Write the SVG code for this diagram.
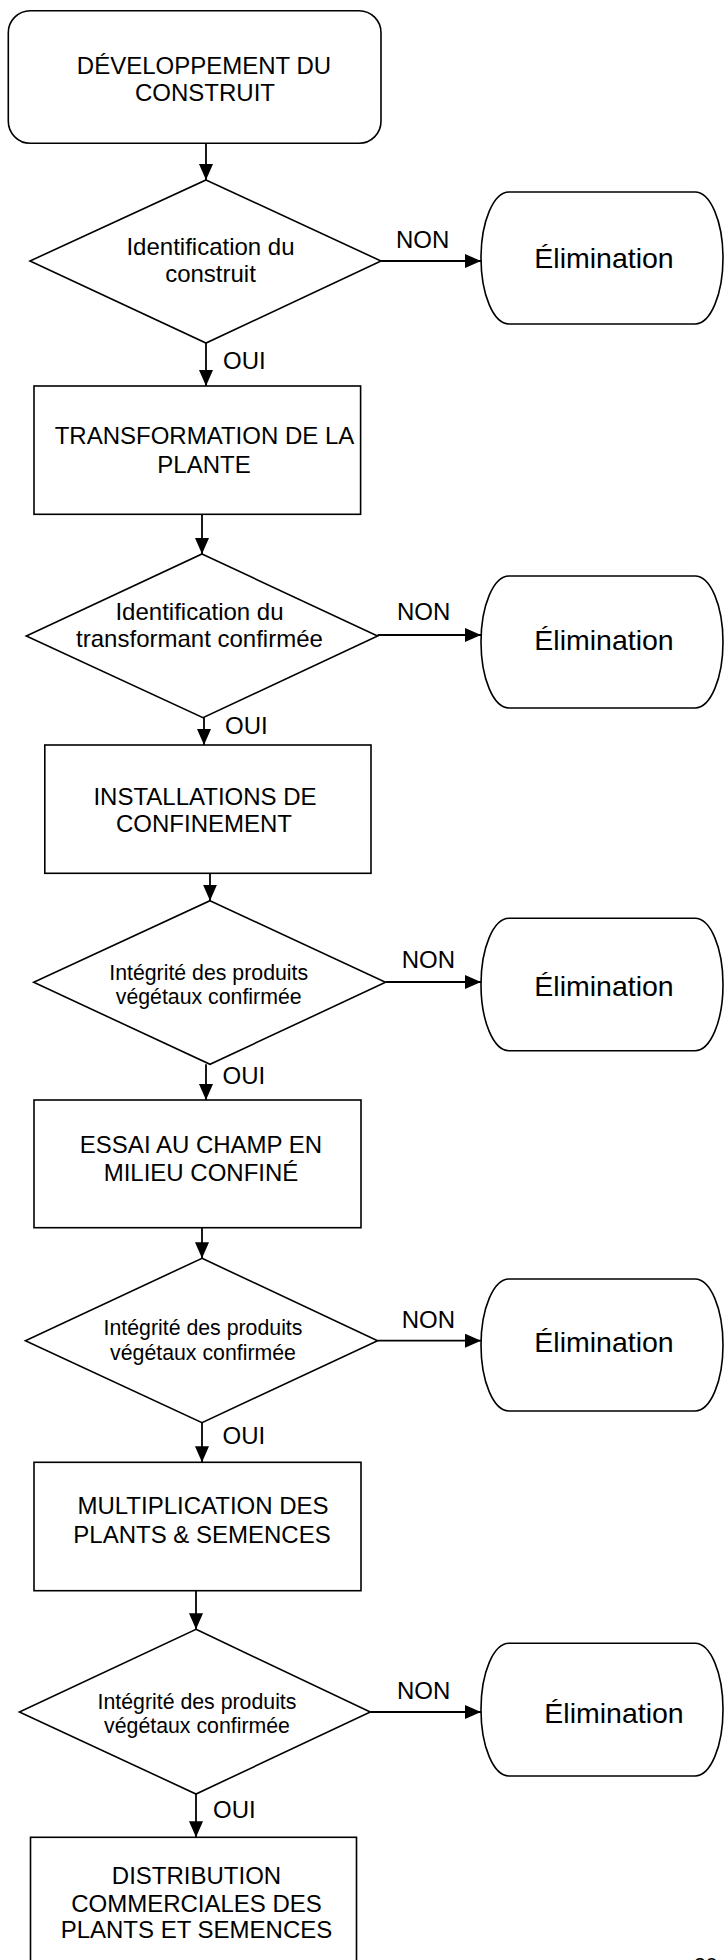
<svg xmlns="http://www.w3.org/2000/svg" width="724" height="1960" viewBox="0 0 724 1960">
<style>
.sh{fill:#fff;stroke:#000;stroke-width:1.6}
.ln{fill:none;stroke:#000;stroke-width:1.8}
text{font-family:"Liberation Sans",Arial,sans-serif;fill:#000}
.bt{font-size:24px;text-anchor:middle}
.dt{font-size:24px;text-anchor:middle}
.ds{font-size:21.3px;text-anchor:middle}
.el{font-size:28.5px;text-anchor:middle}
.lb{font-size:24px}
</style>
<defs>
<marker id="ah" markerUnits="userSpaceOnUse" markerWidth="16" markerHeight="14" refX="16" refY="7" orient="auto">
<path d="M0,0 L16,7 L0,14 z" fill="#000"/>
</marker>
</defs>
<rect width="724" height="1960" fill="#fff"/>
<g id="connectors">
<line class="ln" x1="206" y1="143.3" x2="206" y2="180" marker-end="url(#ah)"/>
<line class="ln" x1="206" y1="343" x2="206" y2="386" marker-end="url(#ah)"/>
<line class="ln" x1="202" y1="514.3" x2="202" y2="554" marker-end="url(#ah)"/>
<line class="ln" x1="204" y1="717.7" x2="204" y2="745" marker-end="url(#ah)"/>
<line class="ln" x1="210" y1="873.3" x2="210" y2="900.7" marker-end="url(#ah)"/>
<line class="ln" x1="206" y1="1064.3" x2="206" y2="1100" marker-end="url(#ah)"/>
<line class="ln" x1="202" y1="1227.7" x2="202" y2="1258.3" marker-end="url(#ah)"/>
<line class="ln" x1="202" y1="1422.7" x2="202" y2="1462.3" marker-end="url(#ah)"/>
<line class="ln" x1="196" y1="1590.7" x2="196" y2="1629.3" marker-end="url(#ah)"/>
<line class="ln" x1="196" y1="1794" x2="196" y2="1837.3" marker-end="url(#ah)"/>
<line class="ln" x1="381" y1="261" x2="481" y2="261" marker-end="url(#ah)"/>
<line class="ln" x1="377.6" y1="635" x2="481" y2="635" marker-end="url(#ah)"/>
<line class="ln" x1="385.5" y1="982" x2="481" y2="982" marker-end="url(#ah)"/>
<line class="ln" x1="377.6" y1="1340.7" x2="481" y2="1340.7" marker-end="url(#ah)"/>
<line class="ln" x1="370.3" y1="1712" x2="481" y2="1712" marker-end="url(#ah)"/>
<text class="lb" x="396" y="248">NON</text>
<text class="lb" x="397" y="620">NON</text>
<text class="lb" x="401.7" y="968.3">NON</text>
<text class="lb" x="401.7" y="1328.3">NON</text>
<text class="lb" x="397" y="1699.3">NON</text>
<text class="lb" x="223" y="369">OUI</text>
<text class="lb" x="225" y="734">OUI</text>
<text class="lb" x="222.5" y="1084">OUI</text>
<text class="lb" x="222.5" y="1444">OUI</text>
<text class="lb" x="213" y="1817.7">OUI</text>
</g>
<g id="start">
<rect class="sh" x="8.3" y="10.7" width="372.7" height="132.6" rx="22" ry="22"/>
<text class="bt" x="204" y="74">DÉVELOPPEMENT DU</text>
<text class="bt" x="205" y="100.7">CONSTRUIT</text>
</g>
<g id="d1">
<polygon class="sh" points="206,180 381,261 206,343 30,261"/>
<text class="dt" x="210.5" y="255">Identification du</text>
<text class="dt" x="210.5" y="282">construit</text>
</g>
<g id="e1">
<rect class="sh" x="481" y="192" width="242" height="132" rx="28" ry="66"/>
<text class="el" x="604" y="268">Élimination</text>
</g>
<g id="b2">
<rect class="sh" x="34" y="386" width="326.6" height="128.3"/>
<text class="bt" x="204.5" y="444">TRANSFORMATION DE LA</text>
<text class="bt" x="204" y="472.7">PLANTE</text>
</g>
<g id="d2">
<polygon class="sh" points="202,554 377.6,636 203,717.7 26.3,636"/>
<text class="dt" x="199.5" y="620">Identification du</text>
<text class="dt" x="199.5" y="646.7">transformant confirmée</text>
</g>
<g id="e2">
<rect class="sh" x="481" y="576" width="242" height="132" rx="28" ry="66"/>
<text class="el" x="604" y="650">Élimination</text>
</g>
<g id="b3">
<rect class="sh" x="44.8" y="745" width="326.2" height="128.3"/>
<text class="bt" x="205" y="805">INSTALLATIONS DE</text>
<text class="bt" x="204" y="831.7">CONFINEMENT</text>
</g>
<g id="d3">
<polygon class="sh" points="210,900.7 385.5,982.3 210,1064.3 33.7,982.3"/>
<text class="ds" x="208.7" y="980">Intégrité des produits</text>
<text class="ds" x="208.7" y="1003.5">végétaux confirmée</text>
</g>
<g id="e3">
<rect class="sh" x="481" y="918.3" width="242" height="132.4" rx="28" ry="66"/>
<text class="el" x="604" y="996">Élimination</text>
</g>
<g id="b4">
<rect class="sh" x="34" y="1100" width="327" height="127.7"/>
<text class="bt" x="201" y="1153.3">ESSAI AU CHAMP EN</text>
<text class="bt" x="201" y="1180.7">MILIEU CONFINÉ</text>
</g>
<g id="d4">
<polygon class="sh" points="202,1258.3 377.6,1340.7 202,1422.7 25.4,1340.7"/>
<text class="ds" x="203" y="1335">Intégrité des produits</text>
<text class="ds" x="203" y="1360">végétaux confirmée</text>
</g>
<g id="e4">
<rect class="sh" x="481" y="1279" width="242" height="132" rx="28" ry="66"/>
<text class="el" x="604" y="1351.7">Élimination</text>
</g>
<g id="b5">
<rect class="sh" x="34" y="1462.3" width="327" height="128.4"/>
<text class="bt" x="203" y="1514">MULTIPLICATION DES</text>
<text class="bt" x="202" y="1543.3">PLANTS &amp; SEMENCES</text>
</g>
<g id="d5">
<polygon class="sh" points="196,1629.3 370.3,1712 196,1794 19.4,1712"/>
<text class="ds" x="197" y="1709.3">Intégrité des produits</text>
<text class="ds" x="197" y="1733.3">végétaux confirmée</text>
</g>
<g id="e5">
<rect class="sh" x="481" y="1643.3" width="242" height="132.7" rx="28" ry="66"/>
<text class="el" x="614" y="1722.7">Élimination</text>
</g>
<g id="b6">
<rect class="sh" x="30.5" y="1837.3" width="326" height="140"/>
<text class="bt" x="196.5" y="1884">DISTRIBUTION</text>
<text class="bt" x="196.5" y="1911.7">COMMERCIALES DES</text>
<text class="bt" x="196.5" y="1938.3">PLANTS ET SEMENCES</text>
</g>
<text x="694" y="1972" font-size="21">20</text>
</svg>
